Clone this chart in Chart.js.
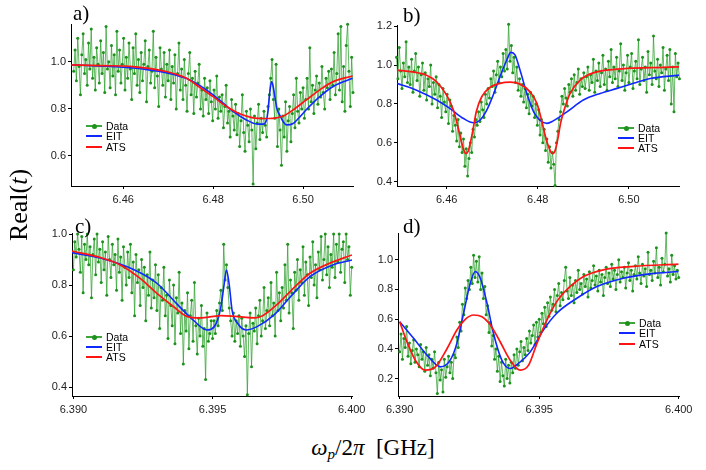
<!DOCTYPE html>
<html><head><meta charset="utf-8">
<script src="https://cdn.jsdelivr.net/npm/chart.js@4/dist/chart.umd.min.js"></script>
<style>
html,body{margin:0;padding:0;background:#fff}
body{width:706px;height:470px;position:relative;overflow:hidden;font-family:"Liberation Sans",Arial,sans-serif}
.pane{position:absolute}
.pane canvas{display:block}
.plab{position:absolute;font-family:"Liberation Serif","Times New Roman",serif;font-size:21px;line-height:21px;color:#000}
.ttl{position:absolute;font-family:"Liberation Serif","Times New Roman",serif;color:#000;white-space:nowrap;line-height:1}
.legtxt{position:absolute;font-size:10.5px;line-height:11px;color:#000;transform:translateY(-50%)}
.legln{position:absolute;height:2px;width:16px}
.legdot{position:absolute;width:5px;height:5px;border-radius:50%;background:#1c911c}
</style></head>
<body>
<div class="pane" style="left:0;top:0"><canvas id="cA" width="376" height="215"></canvas></div>
<div class="pane" style="left:330px;top:0"><canvas id="cB" width="376" height="215"></canvas></div>
<div class="pane" style="left:0;top:215px"><canvas id="cC" width="376" height="215"></canvas></div>
<div class="pane" style="left:330px;top:215px"><canvas id="cD" width="376" height="215"></canvas></div>

<div class="plab" style="left:73px;top:3px">a)</div>
<div class="plab" style="left:403px;top:5px">b)</div>
<div class="plab" style="left:75px;top:216px">c)</div>
<div class="plab" style="left:403px;top:216px">d)</div>

<div class="ttl" style="left:19px;top:205px;font-size:26px;transform:translate(-50%,-50%) rotate(-90deg)">Real(<i>t</i>)</div>
<div class="ttl" style="left:373px;top:449px;font-size:23px;transform:translate(-50%,-50%)"><i>ω</i><sub style="font-size:15px;vertical-align:-4px"><i>p</i></sub>/2<i>π</i>&nbsp;&nbsp;[GHz]</div>

<script>
// sweep grids (linear frequency sweeps, GHz)
const sweepStartAB = 6.449, sweepStepAB = 0.0003;
const sweepStartCD = 6.390, sweepStepCD = 0.00005;

// measured Real(t), panel a
const dataA = [
0.96,1.05,0.92,1.10,0.98,0.86,1.03,1.12,0.95,1.01,
0.90,1.08,0.97,1.14,0.93,1.02,0.88,1.06,0.99,0.91,
1.09,0.95,1.04,0.87,1.15,0.97,1.00,0.89,1.07,0.94,
1.03,0.86,1.13,0.96,1.05,0.91,0.99,1.10,0.88,1.02,
0.93,1.08,0.97,0.84,1.06,0.95,1.12,0.90,1.01,0.87,
1.04,0.92,0.99,1.09,0.83,0.98,1.05,0.91,0.96,1.13,
0.89,1.02,0.94,0.81,1.06,0.97,0.90,1.04,0.85,0.99,
0.92,1.05,0.84,0.98,0.91,1.03,0.80,0.95,1.08,0.88,
0.97,0.84,1.01,0.90,0.79,0.95,1.04,0.86,0.93,0.78,
0.96,0.85,0.91,0.99,0.80,0.88,0.77,0.93,0.84,0.89,
0.78,0.92,0.83,0.75,0.88,0.80,0.94,0.76,0.85,0.79,
0.86,0.72,0.81,0.90,0.74,0.79,0.68,0.84,0.77,0.71,
0.82,0.69,0.78,0.64,0.75,0.86,0.70,0.62,0.79,0.73,
0.66,0.80,0.71,0.48,0.77,0.63,0.74,0.82,0.67,0.76,
0.70,0.79,0.73,0.68,0.81,0.86,0.93,1.01,0.84,0.76,
0.99,0.64,0.80,0.71,0.56,0.77,0.68,0.83,0.62,0.75,
0.81,0.66,0.78,0.86,0.72,0.93,0.79,0.74,0.87,0.80,
0.89,0.76,0.84,0.93,0.80,1.06,0.83,0.90,0.78,0.88,
0.94,0.82,0.91,0.85,0.98,0.87,0.80,0.93,0.89,0.96,
0.84,0.97,0.90,1.04,0.86,0.95,1.12,0.88,1.15,0.83,
0.98,0.79,1.07,1.16,0.96,0.81,1.02,0.87];

// measured Real(t), panel b
const dataB = [
1.04,0.93,1.09,0.97,0.88,1.01,0.94,1.12,0.91,0.99,
0.90,1.03,0.86,0.97,1.06,0.92,0.99,0.84,0.95,1.01,
0.87,0.96,0.82,0.93,0.89,1.00,0.80,0.91,0.85,0.94,
0.78,0.90,0.84,0.73,0.88,0.81,0.76,0.85,0.70,0.82,
0.79,0.66,0.74,0.69,0.61,0.72,0.58,0.65,0.55,0.62,
0.48,0.57,0.43,0.52,0.60,0.55,0.67,0.63,0.72,0.69,
0.76,0.71,0.81,0.77,0.73,0.85,0.80,0.88,0.83,0.93,
0.89,0.97,0.86,0.95,1.02,0.91,0.99,0.94,1.06,0.97,
1.08,0.98,1.21,1.02,1.10,0.96,1.04,0.91,0.99,0.87,
0.93,0.84,0.90,0.81,0.88,0.78,0.85,0.75,0.86,0.79,
0.84,0.73,0.80,0.69,0.77,0.64,0.72,0.60,0.67,0.56,
0.62,0.50,0.58,0.47,0.55,0.49,0.38,0.60,0.66,0.72,
0.76,0.84,0.80,0.88,0.83,0.79,0.90,0.86,0.93,0.84,
0.95,0.87,0.91,0.98,0.85,0.93,0.89,0.96,0.88,0.94,
0.99,0.87,0.95,0.91,1.03,0.86,0.97,0.92,1.01,0.89,
0.96,1.05,0.90,0.98,0.87,1.02,0.94,1.08,0.91,0.99,
0.93,1.04,0.89,0.97,1.11,0.92,1.00,0.87,0.96,1.05,
0.91,0.99,1.06,0.88,0.97,1.02,0.93,1.13,0.90,0.98,
1.04,0.92,0.99,0.86,1.07,0.95,1.01,0.90,1.15,0.97,
0.93,1.03,0.89,1.00,0.96,1.09,0.87,0.98,1.05,0.92,
1.08,0.80,0.99,0.76,1.06,0.94,1.01,0.93];

// measured Real(t), panel c
const dataC = [
0.86,0.97,0.91,1.00,0.94,0.85,0.99,0.77,0.96,0.90,
1.00,0.88,0.95,0.75,0.92,0.98,0.84,1.00,0.89,0.94,
0.81,0.97,0.86,0.93,0.76,0.99,0.90,0.83,0.96,0.88,
0.92,0.78,0.98,0.85,0.91,0.74,0.95,0.87,0.80,0.93,
0.83,0.96,0.77,0.89,0.68,0.92,0.81,0.86,0.72,0.90,
0.79,0.87,0.66,0.84,0.76,0.93,0.71,0.82,0.75,0.88,
0.70,0.84,0.63,0.79,0.74,0.87,0.68,0.76,0.59,0.82,
0.72,0.64,0.80,0.57,0.75,0.69,0.85,0.61,0.73,0.49,
0.70,0.62,0.77,0.55,0.68,0.74,0.58,0.81,0.64,0.53,
0.67,0.60,0.72,0.56,0.63,0.43,0.69,0.58,0.61,0.66,
0.59,0.66,0.61,0.70,0.64,0.73,0.78,0.70,0.96,0.82,
0.88,0.79,0.71,0.66,0.60,0.69,0.58,0.66,0.61,0.68,
0.56,0.67,0.60,0.52,0.64,0.37,0.61,0.69,0.48,0.65,
0.62,0.71,0.57,0.68,0.74,0.60,0.66,0.79,0.63,0.70,
0.75,0.64,0.81,0.68,0.73,0.60,0.85,0.70,0.77,0.66,
0.79,0.71,0.88,0.74,0.96,0.69,0.82,0.77,0.63,0.85,
0.78,0.90,0.74,0.86,0.81,0.95,0.76,0.89,0.84,0.72,
0.91,0.83,0.97,0.80,0.88,0.75,0.93,0.86,0.99,0.82,
0.90,1.00,0.84,0.95,0.79,0.92,0.87,1.00,0.83,0.96,
0.89,1.00,0.85,0.94,0.97,0.81,1.00,0.90,0.95,0.76,0.87];

// measured Real(t), panel d
const dataD = [
0.38,0.50,0.33,0.47,0.41,0.55,0.35,0.44,0.30,0.39,
0.46,0.31,0.40,0.36,0.28,0.43,0.33,0.38,0.25,0.41,
0.29,0.36,0.22,0.33,0.27,0.38,0.24,0.10,0.31,0.19,
0.26,0.11,0.33,0.21,0.28,0.35,0.24,0.31,0.20,0.36,
0.34,0.48,0.41,0.58,0.52,0.70,0.63,0.81,0.74,0.86,
0.80,0.95,0.84,1.03,0.88,0.99,0.85,1.02,0.80,0.91,
0.74,0.82,0.63,0.69,0.51,0.58,0.42,0.49,0.33,0.40,
0.25,0.35,0.18,0.31,0.22,0.15,0.33,0.20,0.29,0.17,
0.31,0.24,0.36,0.27,0.40,0.29,0.38,0.45,0.32,0.41,
0.36,0.47,0.39,0.52,0.44,0.49,0.56,0.43,0.58,0.48,
0.60,0.51,0.64,0.57,0.68,0.55,0.71,0.62,0.75,0.66,
0.70,0.80,0.65,0.76,0.84,0.69,0.78,0.73,0.86,0.95,
0.79,0.74,0.88,0.76,0.83,0.71,0.86,0.78,0.93,0.80,
0.84,0.77,0.90,0.82,0.87,0.75,0.92,0.81,0.86,0.96,
0.83,0.89,0.79,0.93,0.85,0.90,0.76,0.88,0.95,0.84,
0.91,0.82,0.97,0.87,0.93,0.80,0.90,1.00,0.85,0.92,
0.88,0.95,0.81,0.91,0.98,0.86,0.93,0.79,0.90,0.96,
0.87,1.02,0.91,0.84,0.97,0.89,0.94,0.82,1.05,0.90,
0.93,0.86,0.99,0.91,1.08,0.88,0.95,0.83,1.01,0.92,
0.97,1.18,0.89,0.94,0.85,1.03,0.90,0.96,0.87,0.93,0.88];

// fitted curves
const eitAx = [6.4485,6.455,6.46,6.465,6.47,6.474,6.477,6.48,6.4825,6.4844,6.4874,6.4896,6.4911,6.4918,6.4922,6.4926,6.493,6.4934,6.4937,6.4942,6.4948,6.4956,6.4963,6.4978,6.499,6.5007,6.5037,6.5067,6.511];
const eitAy = [0.987,0.982,0.977,0.968,0.952,0.93,0.90,0.86,0.82,0.789,0.753,0.736,0.735,0.75,0.79,0.87,0.916,0.89,0.855,0.80,0.774,0.745,0.732,0.738,0.76,0.796,0.852,0.895,0.93];
const atsAx = [6.4485,6.455,6.4622,6.4696,6.4741,6.477,6.48,6.483,6.4859,6.4889,6.4911,6.4933,6.4956,6.4978,6.5007,6.5037,6.5067,6.511];
const atsAy = [0.987,0.984,0.98,0.959,0.93,0.892,0.852,0.81,0.779,0.762,0.759,0.76,0.77,0.796,0.838,0.881,0.916,0.94];

const eitBx = [6.4491,6.4534,6.4578,6.4607,6.4637,6.4659,6.4673,6.4688,6.4702,6.4717,6.4732,6.4741,6.475,6.4761,6.4776,6.4791,6.4805,6.482,6.4834,6.4864,6.49,6.4937,6.4974,6.501,6.5047,6.511];
const eitBy = [0.906,0.871,0.82,0.777,0.725,0.703,0.716,0.768,0.845,0.94,1.026,1.065,1.052,0.974,0.854,0.759,0.716,0.70,0.713,0.759,0.82,0.854,0.88,0.906,0.931,0.948];
const atsBx = [6.4491,6.4525,6.4556,6.4578,6.46,6.4615,6.4625,6.4633,6.4638,6.4642,6.4647,6.4652,6.4658,6.4665,6.4677,6.4695,6.4717,6.4739,6.4761,6.4783,6.4798,6.4808,6.4816,6.4823,6.4829,6.4833,6.4838,6.4844,6.485,6.4858,6.4871,6.4893,6.4922,6.4974,6.5047,6.511];
const atsBy = [0.974,0.965,0.948,0.914,0.845,0.768,0.68,0.60,0.56,0.545,0.556,0.60,0.67,0.76,0.837,0.885,0.906,0.912,0.902,0.862,0.803,0.72,0.64,0.585,0.552,0.545,0.56,0.62,0.70,0.77,0.854,0.923,0.96,0.979,0.987,0.991];

const eitCx = [6.38995,6.391,6.3922,6.393,6.3937,6.3943,6.3948,6.39505,6.3952,6.3953,6.3954,6.3955,6.3956,6.3957,6.3959,6.3962,6.3966,6.3972,6.3978,6.3985,6.3993,6.40001];
const eitCy = [0.927,0.905,0.859,0.807,0.728,0.663,0.624,0.635,0.67,0.715,0.79,0.859,0.80,0.702,0.65,0.624,0.637,0.682,0.754,0.833,0.878,0.898];
const atsCx = [6.38995,6.391,6.3917,6.3924,6.393,6.3936,6.3941,6.3945,6.3949,6.3953,6.3957,6.3961,6.3965,6.3968,6.3973,6.3979,6.3985,6.3992,6.40001];
const atsCy = [0.933,0.907,0.878,0.826,0.767,0.715,0.676,0.671,0.675,0.68,0.678,0.674,0.671,0.68,0.722,0.787,0.846,0.885,0.918];

const eitDx = [6.39,6.3905,6.39098,6.39146,6.39181,6.39205,6.39229,6.39253,6.39271,6.39289,6.39313,6.39336,6.39366,6.39396,6.39426,6.39468,6.39515,6.39563,6.39635,6.39707,6.39802,6.39897,6.39999];
const eitDy = [0.583,0.471,0.358,0.279,0.324,0.437,0.64,0.842,0.921,0.876,0.707,0.505,0.324,0.268,0.302,0.38,0.527,0.64,0.741,0.82,0.876,0.905,0.921];
const atsDx = [6.39,6.39026,6.39056,6.39092,6.39128,6.3917,6.39205,6.39235,6.39265,6.39295,6.39325,6.3936,6.39396,6.39432,6.39462,6.39492,6.39528,6.39563,6.39611,6.39659,6.3973,6.39838,6.39999];
const atsDy = [0.583,0.448,0.324,0.257,0.279,0.403,0.527,0.599,0.628,0.617,0.561,0.448,0.324,0.257,0.291,0.437,0.595,0.718,0.82,0.887,0.932,0.955,0.971];

// axis ticks
const xTicksAB = [6.46, 6.48, 6.50];
const xTicksCD = [6.390, 6.395, 6.400];
const yTicksA = [0.6, 0.8, 1.0];
const yTicksB = [0.4, 0.6, 0.8, 1.0, 1.2];
const yTicksC = [0.4, 0.6, 0.8, 1.0];
const yTicksD = [0.2, 0.4, 0.6, 0.8, 1.0];

function sweep(vals, start, step) { return vals.map((v, i) => ({x: start + step * i, y: v})); }
function pairs(xs, ys) { return xs.map((x, i) => ({x: x, y: ys[i]})); }

const tickFont = {family: '"Liberation Sans", Arial, sans-serif', size: 11};
const DATA_LINE = 'rgba(40,158,40,0.72)';
const DATA_PT = 'rgb(28,145,28)';
const EIT_COL = '#1028ff';
const ATS_COL = '#ff1414';

function makeChart(id, o) {
  return new Chart(document.getElementById(id), {
    type: 'line',
    data: {datasets: [
      {label: 'Data', data: o.data, order: 3, borderColor: DATA_LINE, borderWidth: 1,
       pointRadius: 1.5, pointBackgroundColor: DATA_PT, pointBorderWidth: 0, pointHoverRadius: 0, tension: 0, clip: 6},
      {label: 'EIT', data: o.eit, order: 2, borderColor: EIT_COL, borderWidth: 1.6, pointRadius: 0, cubicInterpolationMode: 'monotone'},
      {label: 'ATS', data: o.ats, order: 1, borderColor: ATS_COL, borderWidth: 1.7, pointRadius: 0, cubicInterpolationMode: 'monotone'}
    ]},
    options: {
      responsive: false, animation: false, events: [],
      layout: {padding: {top: o.pt, right: o.pr, left: 0, bottom: 0}},
      plugins: {legend: {display: false}, tooltip: {enabled: false}},
      scales: {
        x: {type: 'linear', min: o.xmin, max: o.xmax,
            afterFit: s => { s.height = o.xh; },
            afterBuildTicks: s => { s.ticks = o.xt.map(v => ({value: v})); },
            ticks: {font: tickFont, color: '#222', padding: 4, maxRotation: 0, autoSkip: false,
                    callback: v => Number(v).toFixed(o.xd)},
            grid: {drawOnChartArea: false, drawTicks: true, tickLength: 3, color: '#000'},
            border: {display: true, color: '#000', width: 1}},
        y: {type: 'linear', min: o.ymin, max: o.ymax,
            afterFit: s => { s.width = o.yw; },
            afterBuildTicks: s => { s.ticks = o.yt.map(v => ({value: v})); },
            ticks: {font: tickFont, color: '#222', padding: 2, autoSkip: false,
                    callback: v => Number(v).toFixed(1)},
            grid: {drawOnChartArea: false, drawTicks: true, tickLength: 3, color: '#000'},
            border: {display: true, color: '#000', width: 1}}
      }
    }
  });
}

makeChart('cA', {data: sweep(dataA, sweepStartAB, sweepStepAB), eit: pairs(eitAx, eitAy), ats: pairs(atsAx, atsAy),
  xmin: 6.4484, xmax: 6.5111, ymin: 0.472, ymax: 1.161, xt: xTicksAB, xd: 2, yt: yTicksA,
  pt: 24, pr: 23, yw: 71, xh: 29});
makeChart('cB', {data: sweep(dataB, sweepStartAB, sweepStepAB), eit: pairs(eitBx, eitBy), ats: pairs(atsBx, atsBy),
  xmin: 6.4491, xmax: 6.5110, ymin: 0.378, ymax: 1.206, xt: xTicksAB, xd: 2, yt: yTicksB,
  pt: 25, pr: 27, yw: 67, xh: 29});
makeChart('cC', {data: sweep(dataC, sweepStartCD, sweepStepCD), eit: pairs(eitCx, eitCy), ats: pairs(atsCx, atsCy),
  xmin: 6.38995, xmax: 6.40001, ymin: 0.365, ymax: 1.004, xt: xTicksCD, xd: 3, yt: yTicksC,
  pt: 18, pr: 24, yw: 72, xh: 34});
makeChart('cD', {data: sweep(dataD, sweepStartCD, sweepStepCD), eit: pairs(eitDx, eitDy), ats: pairs(atsDx, atsDy),
  xmin: 6.38994, xmax: 6.40001, ymin: 0.083, ymax: 1.18, xt: xTicksCD, xd: 3, yt: yTicksD,
  pt: 18, pr: 27, yw: 68, xh: 34});

// legends
const legendNames = ['Data', 'EIT', 'ATS'];
const legendColors = ['rgb(60,165,60)', EIT_COL, ATS_COL];
function legend(x, y0, dy) {
  legendNames.forEach((name, i) => {
    const y = Math.round(y0 + dy * i);
    const ln = document.createElement('div');
    ln.className = 'legln';
    ln.style.left = x + 'px';
    ln.style.top = (y - 1) + 'px';
    ln.style.background = legendColors[i];
    document.body.appendChild(ln);
    if (i === 0) {
      const d = document.createElement('div');
      d.className = 'legdot';
      d.style.left = (x + 5.5) + 'px'; d.style.top = (y - 2.5) + 'px';
      document.body.appendChild(d);
    }
    const t = document.createElement('div');
    t.className = 'legtxt';
    t.style.left = (x + 20) + 'px'; t.style.top = y + 'px';
    t.textContent = name;
    document.body.appendChild(t);
  });
}
legend(86, 126, 10.4);
legend(618, 127.5, 10.4);
legend(86, 336.7, 10.3);
legend(619, 322.5, 10.6);
</script>
</body></html>
